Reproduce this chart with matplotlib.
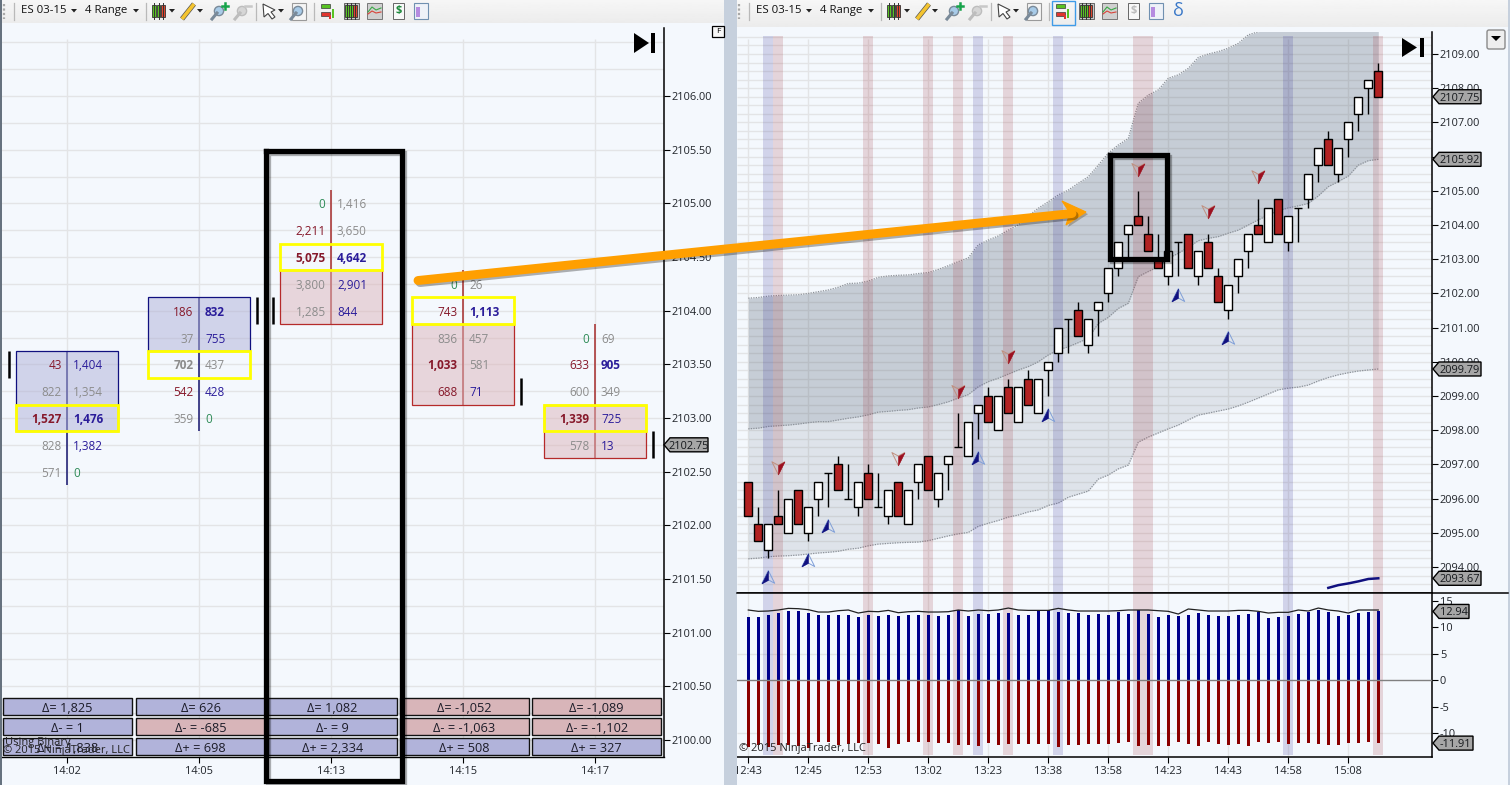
# order flow chart next to range bars with bands - ES 03-15
import matplotlib
matplotlib.use("Agg")
import numpy as np
import matplotlib.pyplot as plt
import matplotlib.patheffects as pe
from matplotlib.patches import Rectangle, Polygon, Circle, FancyBboxPatch
from matplotlib.path import Path
from matplotlib.transforms import blended_transform_factory

plt.rcParams["font.family"] = ["Open Sans", "DejaVu Sans"]

W, H = 1510, 785
BG = "#f4f8fd"
GRID = "#e3e4e6"

# ---- left chart data
cell_times = ["14:02", "14:05", "14:13", "14:15", "14:17"]
cell_levels = [
    [2103.5, 2103.25, 2103.0, 2102.75, 2102.5],
    [2104.0, 2103.75, 2103.5, 2103.25, 2103.0],
    [2105.0, 2104.75, 2104.5, 2104.25, 2104.0],
    [2104.25, 2104.0, 2103.75, 2103.5, 2103.25],
    [2103.75, 2103.5, 2103.25, 2103.0, 2102.75],
]
cell_bids = [
    ["43", "822", "1,527", "828", "571"],
    ["186", "37", "702", "542", "359"],
    ["0", "2,211", "5,075", "3,800", "1,285"],
    ["0", "743", "836", "1,033", "688"],
    ["0", "633", "600", "1,339", "578"],
]
cell_asks = [
    ["1,404", "1,354", "1,476", "1,382", "0"],
    ["832", "755", "437", "428", "0"],
    ["1,416", "3,650", "4,642", "2,901", "844"],
    ["26", "1,113", "457", "581", "71"],
    ["69", "905", "349", "725", "13"],
]
# r/b coloured, g grey, z green, capitals are bold
bid_styles = ["rgRgg", "rgGrg", "zrRgg", "zrgRr", "zrgRg"]
ask_styles = ["bgBbz", "Bbgbz", "ggBbb", "gBggb", "gBgbb"]
box_tops = [2103.5, 2104.0, 2104.25, 2103.75, 2103.0]
box_bottoms = [2103.0, 2103.75, 2104.0, 2103.25, 2102.75]
box_up = [True, True, False, False, False]
poc_levels = [2103.0, 2103.5, 2104.5, 2104.0, 2103.0]
close_levels = [2103.5, 2104.0, 2104.0, 2103.25, 2102.75]
close_sides = [-1, 1, -1, 1, 1]
delta_rows = [
    ["Δ= 1,825", "Δ= 626", "Δ= 1,082", "Δ= -1,052", "Δ= -1,089"],
    ["Δ- = 1", "Δ- = -685", "Δ- = 9", "Δ- = -1,063", "Δ- = -1,102"],
    ["Δ+ = 1,838", "Δ+ = 698", "Δ+ = 2,334", "Δ+ = 508", "Δ+ = 327"],
]
delta_up = [
    [True, True, True, False, False],
    [True, False, True, False, False],
    [True, True, True, True, True],
]

# ---- right chart data
opens = [2096.5, 2095.25, 2094.5, 2095.5, 2095, 2096.25, 2095, 2096, 2096.75, 2097, 2096, 2095.75, 2096.75,
         2095.75, 2095.5, 2096.5, 2095.25, 2096.5, 2097.25, 2096, 2097, 2097.5, 2097.25, 2098.5, 2099, 2098,
         2099.25, 2098.25, 2099.5, 2098.5, 2099.75, 2100.25, 2101.25, 2101.5, 2100.5, 2101.5, 2102, 2102.75,
         2103.75, 2104.25, 2103.75, 2103, 2102.5, 2103.5, 2103.75, 2102.5, 2103.5, 2102.5, 2101.5, 2102.5,
         2103.25, 2104, 2103.5, 2104.75, 2103.5, 2104.5, 2104.75, 2105.75, 2106.5, 2105.5, 2106.5, 2107.25,
         2108, 2108.5]
highs = [2096.5, 2095.75, 2095.25, 2096.25, 2096, 2096.25, 2095.75, 2096.5, 2096.75, 2097.25, 2097, 2096.5, 2097,
         2096.75, 2096.25, 2096.5, 2096.25, 2097, 2097.25, 2096.75, 2097.25, 2098.5, 2098.25, 2098.75, 2099.25,
         2099, 2099.5, 2099.25, 2099.75, 2099.5, 2100, 2101, 2101.25, 2101.75, 2101.25, 2101.75, 2102.75, 2103.5,
         2104, 2105, 2104.25, 2103.75, 2103.25, 2103.5, 2103.75, 2103.25, 2103.75, 2102.75, 2102.25, 2103,
         2103.75, 2104.75, 2104.5, 2104.75, 2104.25, 2104.5, 2105.5, 2106.25, 2106.75, 2106.25, 2107, 2107.75,
         2108.25, 2108.75]
lows = [2095.5, 2094.75, 2094.25, 2095.25, 2095, 2095.25, 2094.75, 2095.5, 2095.75, 2096.25, 2096, 2095.5, 2096,
        2095.75, 2095.25, 2095.5, 2095.25, 2096, 2096.25, 2095.75, 2096.25, 2097.5, 2097.25, 2097.75, 2098.25,
        2098, 2098.5, 2098.25, 2098.75, 2098.5, 2099, 2100, 2100.25, 2100.75, 2100.25, 2100.75, 2101.75, 2102.5,
        2103, 2104, 2103.25, 2102.75, 2102.25, 2102.5, 2102.75, 2102.25, 2102.75, 2101.75, 2101.25, 2102,
        2102.75, 2103.75, 2103.5, 2103.75, 2103.25, 2103.5, 2104.5, 2105.25, 2105.75, 2105.25, 2106, 2106.75,
        2107.25, 2107.75]
closes = [2095.5, 2094.75, 2095.25, 2095.25, 2096, 2095.25, 2095.75, 2096.5, 2096.75, 2096.25, 2096, 2096.5, 2096,
          2095.75, 2096.25, 2095.5, 2096.25, 2097, 2096.25, 2096.75, 2097.25, 2097.5, 2098.25, 2098.75, 2098.25,
          2099, 2098.5, 2099.25, 2098.75, 2099.5, 2100, 2101, 2101.25, 2100.75, 2101.25, 2101.75, 2102.75, 2103.5,
          2104, 2104, 2103.25, 2102.75, 2103.25, 2103.5, 2102.75, 2103.25, 2102.75, 2101.75, 2102.25, 2103,
          2103.75, 2103.75, 2104.5, 2103.75, 2104.25, 2104.5, 2105.5, 2106.25, 2105.75, 2106.25, 2107, 2107.75,
          2108.25, 2107.75]
band_upper = [2101.86, 2101.88, 2101.92, 2101.94, 2101.95, 2101.96, 2102.0, 2102.05, 2102.1, 2102.18, 2102.29,
              2102.3, 2102.36, 2102.47, 2102.51, 2102.53, 2102.54, 2102.58, 2102.61, 2102.7, 2102.81, 2102.93,
              2103.04, 2103.42, 2103.56, 2103.68, 2103.85, 2104.0, 2104.26, 2104.49, 2104.68, 2104.88, 2105.02,
              2105.22, 2105.41, 2105.75, 2106.1, 2106.34, 2106.53, 2107.56, 2107.8, 2107.95, 2108.29, 2108.39,
              2108.58, 2108.9, 2109.0, 2109.07, 2109.17, 2109.31, 2109.56, 2109.65, 2109.8, 2110.0, 2110.1, 2110.2,
              2110.4, 2110.6, 2110.9, 2111.0, 2111.2, 2111.5, 2111.7, 2111.9]
band_mid = [2098.04, 2098.06, 2098.11, 2098.13, 2098.15, 2098.18, 2098.22, 2098.25, 2098.25, 2098.3, 2098.35,
            2098.39, 2098.45, 2098.53, 2098.55, 2098.58, 2098.6, 2098.65, 2098.68, 2098.75, 2098.83, 2098.94,
            2099.04, 2099.27, 2099.42, 2099.52, 2099.64, 2099.76, 2099.86, 2100.0, 2100.2, 2100.35, 2100.44,
            2100.56, 2100.69, 2101.12, 2101.3, 2101.56, 2101.71, 2102.49, 2102.64, 2102.78, 2103.03, 2103.17,
            2103.35, 2103.54, 2103.61, 2103.66, 2103.76, 2103.85, 2104.0, 2104.15, 2104.29, 2104.42, 2104.5,
            2104.56, 2104.63, 2104.85, 2105.12, 2105.27, 2105.43, 2105.75, 2105.88, 2105.92]
band_lower = [2094.24, 2094.26, 2094.3, 2094.32, 2094.33, 2094.35, 2094.38, 2094.41, 2094.43, 2094.46, 2094.52,
              2094.55, 2094.62, 2094.67, 2094.69, 2094.71, 2094.72, 2094.73, 2094.77, 2094.84, 2094.91, 2094.97,
              2095.01, 2095.19, 2095.28, 2095.36, 2095.46, 2095.52, 2095.61, 2095.67, 2095.8, 2095.87, 2096.04,
              2096.13, 2096.22, 2096.57, 2096.69, 2096.87, 2096.98, 2097.65, 2097.8, 2097.92, 2098.04, 2098.15,
              2098.3, 2098.44, 2098.5, 2098.56, 2098.62, 2098.71, 2098.82, 2098.94, 2099.06, 2099.18, 2099.23,
              2099.26, 2099.32, 2099.44, 2099.54, 2099.62, 2099.68, 2099.73, 2099.76, 2099.79]
short_idx = [58, 59, 60, 61, 62, 63]
short_line = [2093.39, 2093.47, 2093.52, 2093.58, 2093.65, 2093.67]
blue_stripes = [2, 23, 31, 54]
red_stripes = [3, 12, 18, 21, 26, 39, 40, 63]
buy_idx = [2, 6, 8, 23, 30, 43, 48]
buy_price = [2093.71, 2094.2, 2095.2, 2097.19, 2098.44, 2101.95, 2100.7]
sell_idx = [3, 15, 21, 26, 39, 46, 51]
sell_price = [2096.89, 2097.16, 2099.12, 2100.14, 2105.61, 2104.38, 2105.4]
right_ticks = [0, 6, 12, 18, 24, 30, 36, 42, 48, 54, 60]
right_times = ["12:43", "12:45", "12:53", "13:02", "13:23", "13:38", "13:58", "14:23", "14:43", "14:58", "15:08"]

vol_up = [11.95, 11.95, 12.33, 12.7, 13.08, 13.08, 12.7, 12.33, 12.33, 12.33, 12.33, 11.95, 12.33, 12.14, 12.33,
          12.14, 12.33, 12.33, 12.33, 12.14, 12.33, 13.2, 12.14, 12.52, 12.52, 12.7, 12.7, 12.33, 12.33, 13.08,
          13.2, 12.89, 12.7, 12.7, 12.33, 12.52, 12.33, 12.89, 12.52, 13.2, 12.52, 11.95, 12.33, 12.14, 12.33,
          12.7, 12.33, 12.14, 12.14, 12.33, 12.52, 12.89, 11.76, 11.95, 12.14, 12.52, 12.89, 13.27, 12.89, 12.14,
          12.33, 12.7, 12.89, 12.94]
vol_down = [-12.58, -12.2, -12.58, -12.2, -12.2, -12.39, -12.77, -11.64, -11.64, -12.2, -12.01, -11.82, -11.82,
            -12.01, -12.77, -12.01, -11.64, -11.64, -11.64, -11.82, -11.82, -12.2, -12.2, -12.39, -11.82, -12.2,
            -12.01, -12.01, -12.01, -12.01, -12.01, -12.58, -12.2, -12.2, -12.01, -12.01, -12.01, -11.82, -11.64,
            -12.39, -12.2, -12.39, -12.39, -11.64, -12.01, -12.39, -11.64, -12.01, -12.2, -12.01, -12.39, -11.64,
            -11.82, -11.64, -12.01, -11.82, -11.82, -12.01, -12.2, -12.2, -11.82, -11.82, -11.64, -11.91]
vol_env = [13.21, 12.96, 13.02, 13.21, 13.52, 13.46, 13.27, 12.83, 12.83, 13.08, 13.21, 12.64, 12.96, 12.89, 13.14,
           12.7, 12.89, 12.96, 12.83, 12.83, 12.89, 13.21, 13.02, 13.21, 13.08, 13.21, 13.58, 13.21, 13.14, 13.14,
           13.14, 13.52, 13.21, 13.02, 13.02, 13.02, 13.02, 13.08, 13.21, 13.21, 13.21, 13.08, 12.96, 12.45, 13.4,
           13.21, 13.02, 13.02, 13.02, 13.14, 13.14, 12.96, 12.64, 12.77, 12.77, 13.21, 13.02, 13.58, 13.21, 13.02,
           12.64, 13.21, 13.21, 13.21]

# ---- helpers
fig = plt.figure(figsize=(W / 100, H / 100), dpi=100, facecolor=BG)


def px_axes(x0, y0, x1, y1):
    ax = fig.add_axes([x0 / W, 1 - y1 / H, (x1 - x0) / W, (y1 - y0) / H])
    ax.set_facecolor(BG)
    for s in ax.spines.values():
        s.set_visible(False)
    return ax


def style_right_axis(ax, ticks, labels):
    ax.yaxis.tick_right()
    ax.spines["right"].set_visible(True)
    ax.spines["right"].set_linewidth(1.1)
    ax.set_yticks(ticks)
    ax.set_yticklabels(labels, fontsize=7.9, color="#20242a")
    ax.tick_params(axis="y", length=4.3, width=0.8, pad=1)


SPAN = 132.0
left = px_axes(2, 28, 664, 757)
left.set_xlim((2 - 67.3) / SPAN, (664 - 67.3) / SPAN)
left.set_ylim(2099.841, 2106.634)
quarter = np.arange(2100, 2106.75, 0.25)
left.hlines(quarter, -1, 5, color=GRID, lw=1.0, zorder=1)
left.vlines(range(5), 2099, 2106.53, color=GRID, lw=1.0, zorder=1)
price_ticks = np.arange(2100, 2106.5, 0.5)
style_right_axis(left, price_ticks, ["%.2f" % p for p in price_ticks])
left.spines["bottom"].set_visible(True)
left.spines["bottom"].set_linewidth(1.0)
left.set_xticks(range(5))
left.set_xticklabels(cell_times, fontsize=7.9, color="#20242a")
left.tick_params(axis="x", length=4.3, width=0.8, pad=2)

STYLE = {"r": "#86182a", "g": "#8c8c8c", "b": "#2a1c9a", "z": "#2e8b57"}
for i in range(5):
    up = box_up[i]
    line_col = "#14146e" if up else "#a52a2a"
    lv = cell_levels[i]
    left.vlines(i, lv[-1] - 0.125, lv[0] + 0.125, color=line_col, lw=1.1, zorder=2)
    hh = box_tops[i] + 0.125
    ll = box_bottoms[i] - 0.125
    left.bar(i, hh - ll, bottom=ll, width=0.773, color="#aeb0d8" if up else "#dcb4ba", alpha=0.5, zorder=3)
    left.bar(i, hh - ll, bottom=ll, width=0.773, fill=False, ec="#10107f" if up else "#b52a2a", lw=0.9, zorder=4)
    left.bar(i, 0.25, bottom=poc_levels[i] - 0.125, width=0.773, fill=False, ec="#ffff00", lw=2.0, zorder=5)
    for lev, bid, ask, bs, a_s in zip(lv, cell_bids[i], cell_asks[i], bid_styles[i], ask_styles[i]):
        left.text(i - 0.043, lev, bid, ha="right", va="center_baseline", fontsize=8.5, color=STYLE[bs.lower()],
                  fontweight="bold" if bs.isupper() else "normal", zorder=6)
        left.text(i + 0.043, lev, ask, ha="left", va="center_baseline", fontsize=8.5, color=STYLE[a_s.lower()],
                  fontweight="bold" if a_s.isupper() else "normal", zorder=6)
    left.vlines(i + close_sides[i] * 0.44, close_levels[i] - 0.125, close_levels[i] + 0.125, color="black",
                lw=1.8, zorder=6)

# delta strip sits at fixed heights in the pane
strip = blended_transform_factory(left.transData, left.transAxes)
row_px = [(698, 715), (718, 735), (738, 755)]
for r, (top, bot) in enumerate(row_px):
    for i in range(5):
        y0 = (757 - bot) / 729
        y1 = (757 - top) / 729
        col = "#b1b3da" if delta_up[r][i] else "#d8b5b9"
        left.add_patch(Rectangle((i - 0.488 + 0.01 * (i > 0), y0), 0.975, y1 - y0, transform=strip, fc=col,
                                 ec="#111111", lw=1.0, zorder=7))
        left.text(i + 0.01 * (i > 0), (y0 + y1) / 2, delta_rows[r][i], transform=strip, ha="center",
                  va="center_baseline", fontsize=9.2, color="#1c1c28", zorder=8)
left.text(0.004, 14.5 / 729, "Using Binary", transform=left.transAxes, fontsize=8, va="center", color="#222222", zorder=9)
left.text(0.002, 6 / 729, "© 2015 NinjaTrader, LLC", transform=left.transAxes, fontsize=8, va="center",
          color="#222222", zorder=9)

# right price pane
main = px_axes(737, 32, 1432.5, 593)
x_lim = (-1.13, 68.42)
main.set_xlim(*x_lim)
main.set_ylim(2093.24, 2109.643)
idx = np.arange(len(opens))
main.hlines(np.arange(2093.5, 2109.6, 0.25), *x_lim, color=GRID, lw=1.0, zorder=1)
main.vlines(right_ticks, 2093, 2109.45, color=GRID, lw=1.0, zorder=1)
main.fill_between(idx, band_mid, band_upper, color="#4a5b6e", alpha=0.27, lw=0, zorder=2)
main.fill_between(idx, band_lower, band_mid, color="#4a5b6e", alpha=0.13, lw=0, zorder=2)
for curve in (band_upper, band_mid, band_lower):
    main.plot(idx, curve, color="#8d9299", lw=0.9, ls=(0, (1, 1)), zorder=3)
top_frac = (593 - 36) / (593 - 32)
for group, col in ((blue_stripes, (50 / 255, 45 / 255, 150 / 255)), (red_stripes, (160 / 255, 50 / 255, 60 / 255))):
    for s in group:
        main.axvspan(s - 0.5, s + 0.5, ymax=top_frac, color=col, alpha=0.18, lw=0, zorder=3)

opens_a, closes_a = np.array(opens), np.array(closes)
main.vlines(idx, lows, highs, color="black", lw=1.0, zorder=4)
is_doji = np.isin(idx, [8, 10, 13, 21, 32, 43, 55])
body_col = ["#b22222" if o > c else "white" for o, c in zip(opens, closes)]
main.bar(idx[~is_doji], np.abs(closes_a - opens_a)[~is_doji], bottom=np.minimum(opens_a, closes_a)[~is_doji],
         width=0.82, color=[c for c, d in zip(body_col, is_doji) if not d], ec="black", lw=1.0, zorder=5)
main.hlines(closes_a[is_doji], idx[is_doji] - 0.42, idx[is_doji] + 0.42, color="black", lw=1.0, zorder=5)
main.plot(short_idx, short_line, color="#10107f", lw=1.8, zorder=5)

up_full = Path([(0, 1), (1, -1), (0, -0.45), (-1, -1), (0, 1)], closed=True)
up_half = Path([(0, 1), (0, -0.45), (-1, -1), (0, 1)], closed=True)
down_full = Path([(0, -1), (1, 1), (0, 0.45), (-1, 1), (0, -1)], closed=True)
down_half = Path([(0, -1), (0, 0.45), (1, 1), (0, -1)], closed=True)
main.scatter(buy_idx, buy_price, marker=up_full, s=85, fc="none", ec="#7f9fd8", lw=0.7, zorder=6)
main.scatter(buy_idx, buy_price, marker=up_half, s=85, fc="#10107f", ec="#10107f", lw=0.4, zorder=6)
main.scatter(sell_idx, sell_price, marker=down_full, s=85, fc="none", ec="#c09080", lw=0.7, zorder=6)
main.scatter(sell_idx, sell_price, marker=down_half, s=85, fc="#9c1020", ec="#9c1020", lw=0.4, zorder=6)
main_ticks = [2094, 2095, 2096, 2097, 2098, 2099, 2100, 2101, 2102, 2103, 2104, 2105, 2106, 2107, 2108, 2109]
style_right_axis(main, main_ticks, ["%.2f" % p for p in main_ticks])
main.set_xticks([])
main.spines["bottom"].set_visible(True)
main.spines["bottom"].set_linewidth(1.1)

# indicator pane
ind = px_axes(737, 593, 1432.5, 757)
ind.set_xlim(*x_lim)
ind.set_ylim(-14.53, 16.42)
ind.hlines([5, -10], *x_lim, color=GRID, lw=1.0, zorder=1)
ind.vlines(right_ticks, -15, 17, color=GRID, lw=1.0, zorder=1)
for group, col in ((blue_stripes, (50 / 255, 45 / 255, 150 / 255)), (red_stripes, (160 / 255, 50 / 255, 60 / 255))):
    for s in group:
        ind.axvspan(s - 0.5, s + 0.5, ymin=2 / 164, color=col, alpha=0.18, lw=0, zorder=2)
ind.bar(idx, vol_up, width=0.3, color="#00008b", zorder=3)
ind.bar(idx, vol_down, width=0.3, color="#8b0000", zorder=3)
ind.axhline(0, color="#808080", lw=1.0, zorder=4)
ind.plot(idx, vol_env, color="#222222", lw=0.9, zorder=4)
style_right_axis(ind, [15, 10, 5, 0, -5, -10], ["15", "10", "5", "0", "-5", "-10"])
ind.spines["bottom"].set_visible(True)
ind.spines["bottom"].set_linewidth(1.1)
ind.set_xticks(right_ticks)
ind.set_xticklabels(right_times, fontsize=7.9, color="#20242a")
ind.tick_params(axis="x", length=4.3, width=0.8, pad=2)
ind.text(0.003, 9 / 164, "© 2015 NinjaTrader, LLC", transform=ind.transAxes, fontsize=8, va="center",
         color="#222222", zorder=9)

# ---- overlay in pixels for chrome and drawn annotations
ov = fig.add_axes([0, 0, 1, 1], zorder=20)
ov.patch.set_alpha(0)
ov.axis("off")
grad = np.linspace(0.965, 0.925, 24).reshape(-1, 1)
ov.imshow(grad, extent=[0, 724, 23, 0], cmap="gray", vmin=0, vmax=1, aspect="auto")
ov.imshow(grad, extent=[737, 1510, 27, 0], cmap="gray", vmin=0, vmax=1, aspect="auto")
ov.set_xlim(0, W)
ov.set_ylim(H, 0)
ov.add_patch(Rectangle((724, 0), 13, H, fc="#c6d0dd", ec="none"))
ov.add_patch(Rectangle((0, 0), 2, H, fc="#66727f", ec="none"))
ov.add_patch(Rectangle((1508, 0), 2, H, fc="#c6d0dd", ec="none"))
ov.plot([737, 1508], [593, 593], color="black", lw=1.1)


def flag(ax, value, text, tip, right):
    y = ov.transData.inverted().transform(ax.transData.transform((0, value)))[1]
    pts = [(tip, y), (tip + 6, y - 7), (right, y - 7), (right, y + 7), (tip + 6, y + 7)]
    ov.add_patch(Polygon(pts, closed=True, fc="#a6a6a6", ec="black", lw=1.0))
    ov.text((tip + 5 + right) / 2, y, text, ha="center", va="center_baseline", fontsize=7.9, color="#15181c")


flag(left, 2102.75, "2102.75", 664, 708)
flag(main, closes[-1], "%.2f" % closes[-1], 1433, 1481)
flag(main, band_mid[-1], "%.2f" % band_mid[-1], 1433, 1481)
flag(main, band_lower[-1], "%.2f" % band_lower[-1], 1433, 1481)
flag(main, short_line[-1], "%.2f" % short_line[-1], 1433, 1481)
flag(ind, vol_up[-1], "%.2f" % vol_up[-1], 1433, 1469)
flag(ind, vol_down[-1], "%.2f" % vol_down[-1], 1433, 1473)

# F box, dropdown, play icons
ov.add_patch(Rectangle((712, 26), 12, 11, fc="#f8f8f8", ec="black", lw=0.9))
ov.text(718, 31.5, "F", ha="center", va="center", fontsize=6, color="black")
ov.add_patch(FancyBboxPatch((1487, 30), 18, 19, boxstyle="round,pad=0,rounding_size=2", fc="#eeeeee", ec="#8a8a8a", lw=1))
ov.add_patch(Polygon([(1491, 36), (1501, 36), (1496, 41)], fc="black", ec="none"))
for tx, bx, y0, y1 in ((634, 651, 33, 53), (1402, 1420, 38, 57)):
    ov.add_patch(Polygon([(tx, y0), (tx, y1), (tx + 15, (y0 + y1) / 2)], fc="black", ec="none"))
    ov.add_patch(Rectangle((bx, y0), 3.5, y1 - y0, fc="black", ec="none"))


def caret(x):
    ov.add_patch(Polygon([(x - 3, 9), (x + 3, 9), (x, 12.5)], fc="#222222", ec="none"))


def sep(x):
    ov.plot([x, x], [3, 20], color="#b9b9b9", lw=0.9)


def candles(x, w=4.5):
    for k, c in enumerate(("#58c322", "#58c322", "#e0452e")):
        ov.plot([x + 2 + k * w] * 2, [3, 19], color="#333333", lw=0.7)
        ov.add_patch(Rectangle((x + k * w, 5), 3.6, 12, fc=c, ec="#333333", lw=0.6))


def magnifier(x, col="#a8cbe8", edge="#7a8a99", sign=None):
    ov.plot([x + 1, x + 6], [19, 13], color=edge, lw=2.2)
    ov.add_patch(Circle((x + 8, 11), 4.6, fc=col, ec=edge, lw=1))
    if sign == "+":
        ov.plot([x + 14, x + 14], [2.5, 9], color="#16a34a", lw=1.8)
        ov.plot([x + 11, x + 17], [5.7, 5.7], color="#16a34a", lw=1.8)
    elif sign == "-":
        ov.plot([x + 11, x + 17], [5.7, 5.7], color="#c8c8c8", lw=1.8)


def toolbar(off):
    ov.plot([4 + off] * 2, [4, 19], color="#a8a8a8", lw=1.6, ls=(0, (1, 1)))
    sep(14 + off)
    ov.text(21 + off, 10.5, "ES 03-15", fontsize=8.2, va="center", color="#111111")
    caret(74 + off)
    ov.text(85 + off, 10.5, "4 Range", fontsize=8.2, va="center", color="#111111")
    caret(136 + off)
    sep(146 + off)
    candles(152 + off)
    caret(172 + off)
    ov.plot([182 + off, 194 + off], [19, 4], color="#555555", lw=3.6, solid_capstyle="butt")
    ov.plot([182 + off, 194 + off], [19, 4], color="#f4c430", lw=2.6, solid_capstyle="butt")
    caret(200 + off)
    magnifier(211 + off, sign="+")
    magnifier(234 + off, "#d6d6d6", "#bdbdbd", sign="-")
    sep(256 + off)
    ov.add_patch(Polygon([(263 + off, 4), (264 + off, 17), (268 + off, 13.5), (272 + off, 19), (275 + off, 17),
                          (271 + off, 12), (275 + off, 10)], fc="white", ec="#444444", lw=0.8))
    caret(281 + off)
    ov.add_patch(Rectangle((292 + off, 3), 14, 17, fc="#f5f5f5", ec="#9a9a9a", lw=0.8))
    magnifier(290 + off)
    sep(314 + off)
    # four tool icons
    ov.add_patch(Rectangle((321 + off, 4), 9, 4, fc="#58c322", ec="#3a3a3a", lw=0.5))
    ov.add_patch(Rectangle((321 + off, 12), 9, 4, fc="#e0352e", ec="#3a3a3a", lw=0.5))
    ov.add_patch(Rectangle((332 + off, 9), 2, 9, fc="#58c322", ec="none"))
    ov.add_patch(Rectangle((329 + off, 15), 2, 4, fc="#e0352e", ec="none"))
    ov.add_patch(Rectangle((344 + off, 3), 15, 16, fc="#c8c8c8", ec="#666666", lw=0.7))
    candles(345 + off, 4.2)
    ov.add_patch(Rectangle((367 + off, 3), 15, 16, fc="#d0d0d0", ec="#777777", lw=0.7))
    ov.plot([368 + off, 372 + off, 376 + off, 381 + off], [12, 7, 10, 8], color="#39a845", lw=0.8)
    ov.plot([368 + off, 372 + off, 376 + off, 381 + off], [14, 11, 13, 12], color="#d8453a", lw=0.8)
    ov.add_patch(Rectangle((393 + off, 3), 11, 16, fc="#f8f8f8", ec="#666666", lw=0.7))
    ov.text(398.5 + off, 11, "$", fontsize=8, fontweight="bold", ha="center", va="center",
            color="#1e8a3c" if off == 0 else "#bdbdbd")
    ov.add_patch(Rectangle((414 + off, 3), 14, 16, fc="#eef2f8", ec="#7090b0", lw=0.8))
    ov.add_patch(Rectangle((416 + off, 7), 4, 10, fc="#b58be0", ec="none"))


toolbar(0)
toolbar(735)
ov.add_patch(Rectangle((1052, 1), 23, 24, fc="none", ec="#3f9be8", lw=1))
ov.text(1178, 11, "δ", fontsize=13, ha="center", va="center", color="#3a78c8")

# hand drawn boxes and arrow
shadow = [pe.SimpleLineShadow(offset=(1.5, -1.5), shadow_color="black", alpha=0.3), pe.Normal()]
ov.plot([266, 402, 402, 266, 266], [151, 151, 781, 781, 151], color="black", lw=3.8, solid_joinstyle="miter",
        path_effects=shadow)
ov.plot([1110, 1167, 1167, 1110, 1110], [155, 155, 259, 259, 155], color="black", lw=3.8, solid_joinstyle="miter",
        path_effects=shadow)
ov.plot([418, 1072], [280.5, 213.5], color="#ff9f00", lw=6.4, solid_capstyle="round", path_effects=shadow)
head = Polygon([(1086, 212), (1062, 201), (1070, 213), (1066, 225)], closed=True, fc="#ff9f00", ec="#ff9f00", lw=0.8)
head.set_path_effects([pe.SimplePatchShadow(offset=(1.5, -1.5), alpha=0.3), pe.Normal()])
ov.add_patch(head)

fig.savefig("out.png", dpi=100, facecolor=fig.get_facecolor())
